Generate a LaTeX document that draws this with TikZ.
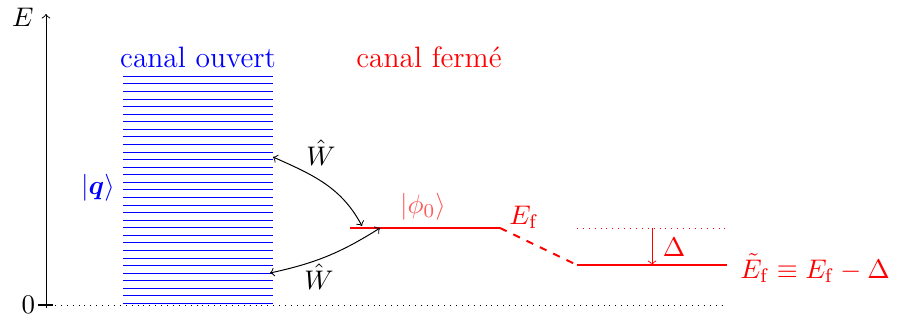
\documentclass[tikz,border=0pt,11pt]{standalone}
\usepackage{amsmath,amssymb,bm}
\begin{document}
\begin{tikzpicture}[x=0.143cm,y=0.143cm,>=to]
\useasboundingbox (0,-1.5) rectangle (90.1,30.5);
% energy axis
\coordinate (orig) at (4.6,-0.3);
\coordinate (Etop) at (4.6,29.1);
\draw[->] (orig)--(Etop);
\node[anchor=east] (Elab) at (4.3,28.8) {$E$};
\coordinate (tickL) at (3.8,0);
\coordinate (tickR) at (5.3,0);
\draw[thick] (tickL)--(tickR);
\node[anchor=east,inner sep=1pt] (zero) at (tickL) {$0$};
\coordinate (zeroL) at (5.5,0);
\coordinate (zeroR) at (72.5,0);
\draw[dotted] (zeroL)--(zeroR);
% open channel continuum
\foreach \i in {0,...,30}{
  \draw[blue] (12.3,{0.15+0.757*\i})--(27.3,{0.15+0.757*\i});
}
\node[blue,font=\large] (open) at (19.8,24.8) {canal ouvert};
\node[blue] (qket) at (9.8,11.7) {$|\bm{q}\rangle$};
% closed channel
\node[red,font=\large] (closed) at (42.9,24.8) {canal ferm\'e};
\coordinate (phiL) at (35,7.7);
\coordinate (phiR) at (50,7.7);
\draw[red,thick] (phiL)--(phiR);
\node[red!65] (phi) at (42.3,9.8) {$|\phi_0\rangle$};
\node[red] (Ef) at (52.4,8.8) {$E_\mathrm{f}$};
\coordinate (tilL) at (57.7,4);
\coordinate (tilR) at (72.7,4);
\draw[red,thick,dashed] (phiR)--(tilL);
\draw[red,thick] (tilL)--(tilR);
\coordinate (oldL) at (57.7,7.7);
\coordinate (oldR) at (72.7,7.7);
\draw[red,dotted] (oldL)--(oldR);
\coordinate (shiftA) at (65.2,7.7);
\coordinate (shiftB) at (65.2,4);
\draw[red,->] (shiftA)--(shiftB);
\node[red] (Delta) at (67.4,5.8) {$\Delta$};
\node[red,anchor=west] (Etil) at (73.1,3.7) {$\tilde{E}_\mathrm{f}\equiv E_\mathrm{f}-\Delta$};
% coupling
\coordinate (qhigh) at (27.3,14.8);
\coordinate (phiin) at (36.2,7.9);
\coordinate (qlow) at (27,3.2);
\coordinate (phiout) at (38,7.7);
\draw[<->] (qhigh) to[out=-24,in=118] (phiin);
\draw[<->] (qlow) to[bend right=10] (phiout);
\node (Wtop) at (32.1,15.2) {$\hat{W}$};
\node (Wbot) at (31.9,2.8) {$\hat{W}$};
\end{tikzpicture}
\end{document}
